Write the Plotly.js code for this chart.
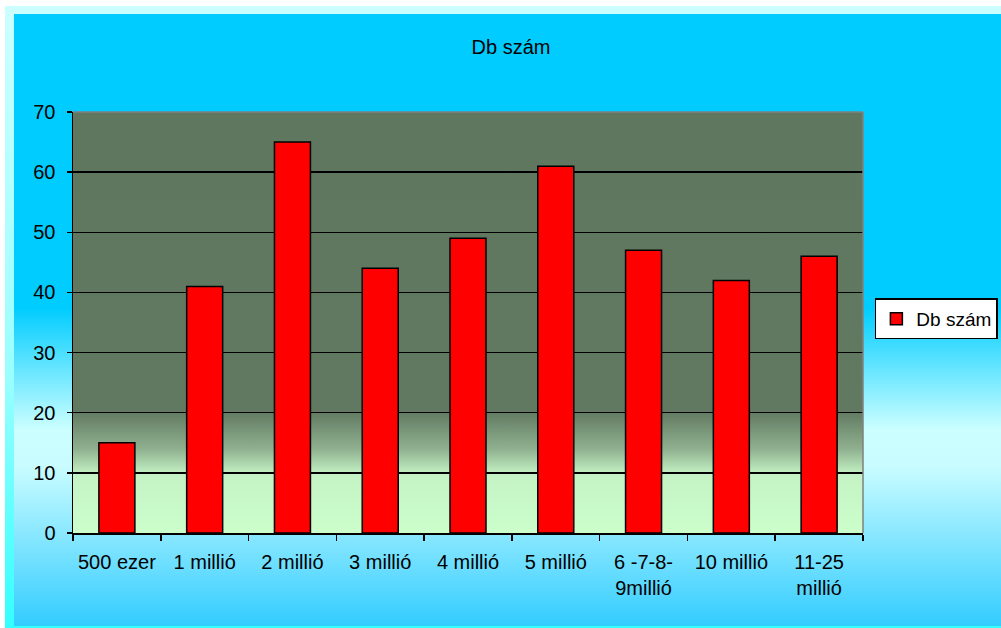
<!DOCTYPE html>
<html>
<head>
<meta charset="utf-8">
<script src="https://cdn.plot.ly/plotly-3.0.1.min.js"></script>
<style>
  html, body { margin: 0; padding: 0; background: #ffffff; }
  #frame {
    position: absolute; left: 5px; top: 6px; width: 996px; height: 622px;
    background: linear-gradient(to bottom, #ccffff 0%, #99ffff 60%, #33ffff 100%);
  }
  #inner {
    position: absolute; left: 14px; top: 14px; width: 987px; height: 612px;
    background: linear-gradient(to bottom, #00ccff 0%, #00ccff 48%, #ccffff 68%, #c8fcff 74%, #33ccff 100%);
  }
  #chart { position: absolute; left: 0; top: 0; width: 1001px; height: 628px; }
</style>
</head>
<body>
<div id="frame"></div>
<div id="inner"></div>
<div id="chart"></div>
<script>
const categories = ["500 ezer", "1 millió", "2 millió", "3 millió", "4 millió", "5 millió", "6 -7-8-<br>9millió", "10 millió", "11-25<br>millió"];
const counts = [15, 41, 65, 44, 49, 61, 47, 42, 46];
const seriesName = "Db szám";
const chartTitle = "Db szám";
const yTicks = [0, 10, 20, 30, 40, 50, 60, 70];

const plotGradient = 'data:image/svg+xml;utf8,' + encodeURIComponent(
  '<svg xmlns="http://www.w3.org/2000/svg" width="100" height="100" preserveAspectRatio="none">' +
  '<defs><linearGradient id="g" x1="0" y1="0" x2="0" y2="1">' +
  '<stop offset="0" stop-color="#5f775f"/>' +
  '<stop offset="0.71" stop-color="#617961"/>' +
  '<stop offset="0.80" stop-color="#8fb08f"/>' +
  '<stop offset="0.86" stop-color="#c4f2c4"/>' +
  '<stop offset="1" stop-color="#ccffcc"/>' +
  '</linearGradient></defs><rect width="100" height="100" fill="url(#g)"/></svg>');

const trace = {
  type: 'bar',
  x: categories,
  y: counts,
  name: seriesName,
  marker: { color: '#ff0000', line: { color: '#000000', width: 1.5 } },
  showlegend: true,
  hoverinfo: 'x+y'
};

const font = "'Liberation Sans', Arial, sans-serif";

const layout = {
  width: 1001,
  height: 628,
  margin: { l: 73, r: 138, t: 112, b: 95, autoexpand: false },
  paper_bgcolor: 'rgba(0,0,0,0)',
  plot_bgcolor: 'rgba(0,0,0,0)',
  font: { family: font, size: 20, color: '#000000' },
  title: {
    text: chartTitle,
    font: { family: font, size: 20, color: '#000000' },
    xref: 'container', x: 0.5105, xanchor: 'center',
    yref: 'container', y: 0.925, yanchor: 'middle'
  },
  bargap: 0.59,
  xaxis: {
    type: 'category',
    showline: true, linecolor: '#000000', linewidth: 1.5,
    ticks: 'outside', ticklen: 6, tickcolor: '#000000', tickwidth: 1.5,
    tickson: 'boundaries',
    ticklabelstandoff: 10,
    showgrid: false,
    tickfont: { family: font, size: 20, color: '#000000' },
    fixedrange: true
  },
  yaxis: {
    range: [0, 70],
    tickvals: yTicks,
    ticktext: yTicks.map(String),
    showline: true, linecolor: '#000000', linewidth: 1.5,
    ticks: 'outside', ticklen: 5, tickcolor: '#000000', tickwidth: 1.5,
    ticklabelstandoff: 7,
    showgrid: true, gridcolor: '#000000', gridwidth: 1.5,
    zeroline: false,
    tickfont: { family: font, size: 20, color: '#000000' },
    fixedrange: true
  },
  images: [{
    source: plotGradient,
    xref: 'paper', yref: 'paper',
    x: 0, y: 1, sizex: 1, sizey: 1,
    xanchor: 'left', yanchor: 'top',
    sizing: 'stretch', layer: 'below', opacity: 1
  }],
  shapes: [
    { type: 'line', xref: 'paper', yref: 'paper', x0: 0, x1: 1, y0: 1, y1: 1, line: { color: '#808080', width: 1.5 }, layer: 'above' },
    { type: 'line', xref: 'paper', yref: 'paper', x0: 1, x1: 1, y0: 0, y1: 1, line: { color: '#808080', width: 1.5 }, layer: 'above' }
  ],
  legend: {
    xref: 'container', yref: 'container',
    x: 0.874, y: 0.525, xanchor: 'left', yanchor: 'top',
    bgcolor: '#ffffff', bordercolor: '#000000', borderwidth: 1.5,
    font: { family: font, size: 19, color: '#000000' }
  }
};

Plotly.newPlot('chart', [trace], layout, { displayModeBar: false, staticPlot: true });
</script>
</body>
</html>
